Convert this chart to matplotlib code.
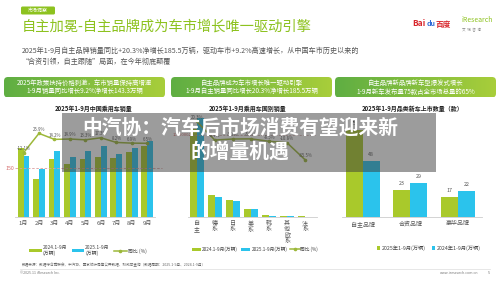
import numpy as np
import matplotlib
matplotlib.use("Agg")
from matplotlib import pyplot as plt
from matplotlib.patches import FancyBboxPatch, Rectangle

plt.rcParams['font.family'] = ['Noto Sans CJK SC', 'DejaVu Sans']

# ---- data ----
months = ['1月', '2月', '3月', '4月', '5月', '6月', '7月', '8月', '9月']
sales_2024 = [214, 116, 178, 162, 179, 186, 181, 201, 220]
sales_2025 = [188, 147, 205, 186, 205, 220, 194, 212, 236]
yoy_month = [-12.1, 25.9, 14.2, 14.9, 13.3, 17.3, 8.2, 6.9, 6.5]

origins = ['自\n主', '德\n系', '日\n系', '美\n系', '韩\n系', '其\n他\n欧\n系', '法\n系']
origin_2024 = [880, 217, 167, 77, 17, 7, 3]
origin_2025 = [1000, 202, 158, 73, 10, 6, 2]
yoy_origin = [20.3, -6.7, -5.2, -5.0, -8.5, -10.8, -35.5]

brand_types = ['自主品牌', '合资品牌', '豪华品牌']
models_2025 = [75, 23, 17]
models_2024 = [48, 29, 22]

GREEN = '#A9C92B'
BLUE = '#2BC3EC'
LINE = '#9DB83A'
W, H = 500, 281

fig = plt.figure(figsize=(5, 2.81), dpi=100)
fig.patch.set_facecolor('white')


def px_axes(x0, x1, y0, y1, **kw):
    return fig.add_axes([x0 / W, 1 - y1 / H, (x1 - x0) / W, (y1 - y0) / H], **kw)


def style(ax):
    for s in ['top', 'right', 'left']:
        ax.spines[s].set_visible(False)
    ax.spines['bottom'].set_color('#cccccc')
    ax.spines['bottom'].set_linewidth(0.6)
    ax.set_yticks([])
    ax.tick_params(axis='x', length=0, labelsize=4.3, colors='#555555', pad=3)


# ---- left chart ----
ax1 = px_axes(15, 155, 118, 216.7)
x = np.arange(len(months))
bw = 0.38
ax1.bar(x - bw / 2, sales_2024, bw, color=GREEN, label='2024.1-9月\n(万辆)')
ax1.bar(x + bw / 2, sales_2025, bw, color=BLUE, label='2025.1-9月\n(万辆)')
ax1.set_xlim(-0.55, 8.5)
ax1.set_ylim(0, 306)
ax1.set_xticks(x)
ax1.set_xticklabels(months)
style(ax1)
ax1.axhline(150, color='#d9a0a0', lw=0.6, ls=(0, (3, 2)), xmax=1.05, clip_on=False)
ax1.text(-0.62, 150, '150', fontsize=3.8, color='#d46a6a', ha='right', va='center')
ax1b = ax1.twinx()
ax1b.plot(x, yoy_month, color=LINE, lw=1.1, marker='o', ms=1.6, label='同比 (%)')
ax1b.set_ylim(-137, 56)
ax1b.axis('off')
for xi, v in zip(x, yoy_month):
    ax1b.text(xi, v + 3, f'{v}%', fontsize=3.1, color='#555555', ha='center', va='bottom')
h1, l1 = ax1.get_legend_handles_labels()
h2, l2 = ax1b.get_legend_handles_labels()
ax1.legend(h1 + h2, l1 + l2, ncol=3, frameon=False, fontsize=3.5, loc='upper center',
           bbox_to_anchor=(0.52, -0.24), handlelength=2.6, handleheight=0.6, handletextpad=0.2,
           columnspacing=0.9, labelcolor='#444444')

# ---- middle chart ----
ax2 = px_axes(188, 317, 118, 216.7)
x2 = np.arange(len(origins))
bw2 = 0.39
ax2.bar(x2 - bw2 / 2, origin_2024, bw2, color=GREEN, label='2024.1-9月(万辆)')
ax2.bar(x2 + bw2 / 2, origin_2025, bw2, color=BLUE, label='2025.1-9月(万辆)')
ax2.set_xlim(-0.48, 6.65)
ax2.set_ylim(0, 987)
ax2.set_xticks(x2)
ax2.set_xticklabels(origins, linespacing=1.05, va='top')
style(ax2)
ax2b = ax2.twinx()
ax2b.plot(x2, yoy_origin, color=LINE, lw=1.1, marker='o', ms=1.6, label='同比 (%)')
ax2b.set_ylim(-117.7, 25.2)
ax2b.axis('off')
ax2b.axhline(0, color='#c9a0a0', lw=0.5, ls=(0, (3, 2)))
ax2b.text(-1.3, 0, '100000000', fontsize=3.0, color='#d46a6a', ha='left', va='center')
for xi, v in zip(x2, yoy_origin):
    ax2b.text(xi, v + 2.5, f'{v}%', fontsize=3.1, color='#555555', ha='center', va='bottom')
h1, l1 = ax2.get_legend_handles_labels()
h2, l2 = ax2b.get_legend_handles_labels()
ax2.legend(h1 + h2, l1 + l2, ncol=3, frameon=False, fontsize=3.4, loc='upper center',
           bbox_to_anchor=(0.52, -0.26), handlelength=2.0, handleheight=0.6, handletextpad=0.2,
           columnspacing=0.6, labelcolor='#444444')

# ---- right chart ----
ax3 = px_axes(341.7, 481.7, 118, 216.7)
x3 = np.arange(len(brand_types))
bw3 = 0.36
b1 = ax3.bar(x3 - bw3 / 2, models_2025, bw3, color=GREEN, label='2025年1-9月(万辆)')
b2 = ax3.bar(x3 + bw3 / 2, models_2024, bw3, color=BLUE, label='2024年1-9月(万辆)')
ax3.bar_label(b1, fontsize=3.8, color='#555555', padding=3)
ax3.bar_label(b2, fontsize=3.8, color='#555555', padding=3)
ax3.set_xlim(-0.44, 2.5)
ax3.set_ylim(0, 85.8)
ax3.set_xticks(x3)
ax3.set_xticklabels(brand_types)
style(ax3)
ax3.legend(ncol=2, frameon=False, fontsize=3.8, loc='upper center', bbox_to_anchor=(0.62, -0.24),
           handlelength=0.6, handleheight=0.6, handletextpad=0.3, columnspacing=1.2,
           labelcolor='#444444')

# ---- page decoration (pixel canvas) ----
cv = fig.add_axes([0, 0, 1, 1], zorder=10)
cv.set_xlim(0, W)
cv.set_ylim(H, 0)
cv.axis('off')
cv.patch.set_alpha(0)

cv.add_patch(FancyBboxPatch((21, 6.5), 34, 8, boxstyle='round,pad=0,rounding_size=1.5',
                            fc='#8DC21F', ec='none'))
cv.text(38, 10.5, '市场洞察', fontsize=3.6, color='white', ha='center', va='center')
cv.text(22, 27, '自主加冕-自主品牌成为车市增长唯一驱动引擎', fontsize=10.3, color='#8DC21F',
        ha='left', va='center')
cv.text(22, 51, '2025年1-9月自主品牌销量同比+20.3%净增长185.5万辆，驱动车市+9.2%高速增长，从中国车市历史以来的',
        fontsize=5.1, color='#555555', ha='left', va='center')
cv.text(22, 61.5, '“合资引领，自主跟随”局面，在今年彻底颠覆', fontsize=5.1, color='#555555',
        ha='left', va='center')

cv.text(412, 24, 'Bai', fontsize=6, color='#d8262c', fontweight='bold', ha='left', va='center')
cv.text(427, 24, 'du', fontsize=5, color='#2f6bd8', fontweight='bold', ha='left', va='center')
cv.text(436, 24, '百度', fontsize=5.5, color='#d8262c', fontweight='bold', ha='left', va='center')
cv.text(461, 20, 'iResearch', fontsize=5, color='#8DC21F', ha='left', va='center')
cv.text(462, 30, '艾  瑞  咨  询', fontsize=2.6, color='#888888', ha='left', va='center')

banners = [
    (4, 165, '2025年政策扶持价格刺激，车市销量保持高增速', '1-9月销量同比增长9.2%净增长143.3万辆'),
    (171, 332, '自主品牌成为车市增长唯一驱动引擎', '1-9月自主销量同比增长20.3%净增长185.5万辆'),
    (335, 496, '自主品牌新品牌新车型爆发式增长', '1-9月新车发布量75款占全市场总量的65%'),
]
grad = np.linspace(0, 1, 256).reshape(1, -1)
cmap = matplotlib.colors.LinearSegmentedColormap.from_list('g', ['#5FAE43', '#A8CE3A'])
for bx0, bx1, t1, t2 in banners:
    p = FancyBboxPatch((bx0, 77), bx1 - bx0, 20.5, boxstyle='round,pad=0,rounding_size=4',
                       fc='none', ec='none')
    cv.add_patch(p)
    im = cv.imshow(grad, cmap=cmap, extent=(bx0, bx1, 97.5, 77), aspect='auto', zorder=1)
    im.set_clip_path(p)
    cx = (bx0 + bx1) / 2
    cv.text(cx, 82.5, t1, fontsize=4.6, color='white', ha='center', va='center', zorder=2)
    cv.text(cx, 91.5, t2, fontsize=4.6, color='white', ha='center', va='center', zorder=2)
cv.set_xlim(0, W)
cv.set_ylim(H, 0)

cv.text(94, 108, '2025年1-9月中国乘用车销量', fontsize=4.3, color='#222222', fontweight='bold',
        ha='center', va='center')
cv.text(248, 108, '2025年1-9月乘用车国别销量', fontsize=4.3, color='#222222', fontweight='bold',
        ha='center', va='center')
cv.text(413, 108, '2025年1-9月品类新车上市数量（款）', fontsize=4.3, color='#222222', fontweight='bold',
        ha='center', va='center')

cv.text(22, 265, '数据来源：数据综合乘联会、中汽协、国家统计局等公开数据、权威可查询（数据周期：2025.1-9月、2024.1-9月）',
        fontsize=2.6, color='#666666', ha='left', va='center')
cv.plot([20, 490], [269.3, 269.3], color='#dddddd', lw=0.5)
cv.text(20, 272.5, '©2025.11 iResearch Inc.', fontsize=2.6, color='#777777', ha='left', va='center')
cv.text(478, 272.5, 'www.iresearch.com.cn', fontsize=2.6, color='#777777', ha='right', va='center')
cv.text(489, 272.5, '5', fontsize=2.8, color='#777777', ha='center', va='center')

# headline overlay
cv.add_patch(Rectangle((62, 113), 374, 59, fc='#3a3a3a', alpha=0.5, ec='none', zorder=5))
cv.text(240, 128, '中汽协：汽车后市场消费有望迎来新', fontsize=14.2, color='white',
        fontweight='bold', ha='center', va='center', zorder=6)
cv.text(240, 152, '的增量机遇', fontsize=14.2, color='white', fontweight='bold',
        ha='center', va='center', zorder=6)

fig.savefig('out.png', dpi=100)
